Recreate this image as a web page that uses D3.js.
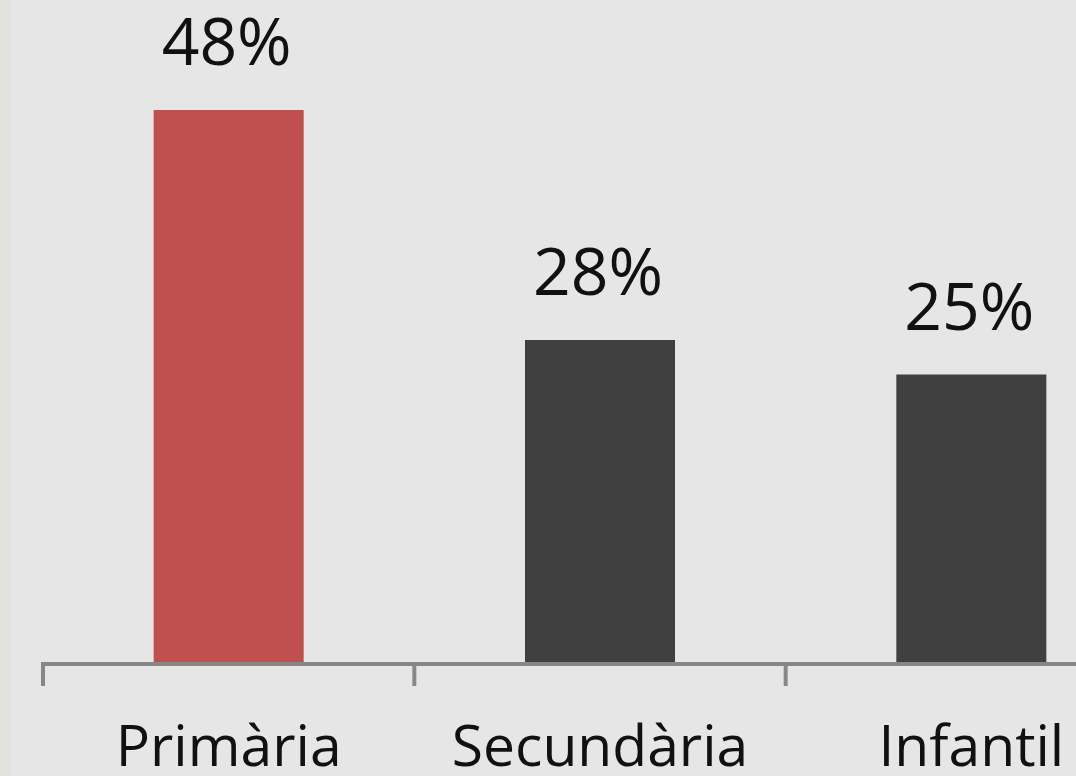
<!DOCTYPE html>
<html>
<head>
<meta charset="utf-8">
<script src="https://cdn.jsdelivr.net/npm/d3@7"></script>
<style>
  html, body { margin: 0; padding: 0; background: #e6e6e6; overflow: hidden; }
</style>
</head>
<body>
<div id="app"></div>
<script>
'use strict'
const categories = ['Primària', 'Secundària', 'Infantil']
const values = [48, 28, 25]
const labels = ['48%', '28%', '25%']
const barColors = ['#c0504d', '#404040', '#404040']

const width = 1076
const height = 776
const baseY = 662

const svg = d3.select('#app').append('svg')
  .attr('width', width)
  .attr('height', height)
  .style('display', 'block')

svg.append('rect')
  .attr('width', width).attr('height', height)
  .attr('fill', '#e6e6e6')
svg.append('rect')
  .attr('width', 11).attr('height', height)
  .attr('fill', '#e3e3dd')

const x = d3.scaleBand()
  .domain(categories)
  .range([43, 1157])
  .padding(0)

const y = d3.scaleLinear()
  .domain([0, 48])
  .range([baseY, 110])

const barW = x.bandwidth() * 0.404

svg.selectAll('rect.bar')
  .data(values)
  .enter().append('rect')
  .attr('class', 'bar')
  .attr('x', (d, i) => x(categories[i]) + x.bandwidth() / 2 - barW / 2)
  .attr('y', d => y(d))
  .attr('width', barW)
  .attr('height', d => baseY - y(d))
  .attr('fill', (d, i) => barColors[i])

// value labels
svg.selectAll('text.val')
  .data(values)
  .enter().append('text')
  .attr('class', 'val')
  .attr('x', (d, i) => x(categories[i]) + x.bandwidth() / 2 - 2)
  .attr('y', d => y(d) - 45)
  .attr('text-anchor', 'middle')
  .style('font-family', '"Open Sans", sans-serif')
  .style('font-size', '66px')
  .style('fill', '#111')
  .text((d, i) => labels[i])

// axis
const axis = d3.axisBottom(x).tickSize(24).tickFormat('')
const gx = svg.append('g')
  .attr('transform', `translate(0, ${baseY + 2})`)
  .call(axis)
gx.select('.domain').remove()
gx.selectAll('.tick line').remove()
gx.selectAll('.tick')
  .append('line')
  .attr('x1', -x.bandwidth() / 2 + 0)
  .attr('x2', -x.bandwidth() / 2 + 0)
  .attr('y1', -2)
  .attr('y2', 22)
  .attr('stroke', '#878787')
  .attr('stroke-width', 4)

svg.append('line')
  .attr('x1', 41).attr('x2', width)
  .attr('y1', baseY + 2).attr('y2', baseY + 2)
  .attr('stroke', '#878787')
  .attr('stroke-width', 4)

gx.selectAll('.tick')
  .append('text')
  .attr('y', 102)
  .attr('text-anchor', 'middle')
  .style('font-family', '"Open Sans", sans-serif')
  .style('font-size', '57px')
  .style('fill', '#111')
  .text(d => d)
</script>
</body>
</html>
